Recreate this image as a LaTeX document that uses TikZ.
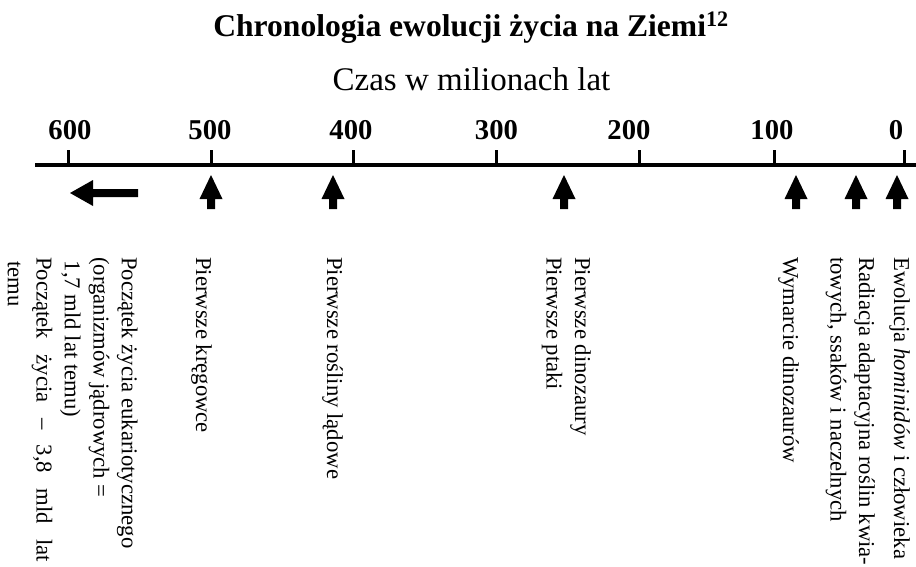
\documentclass[tikz,border=0pt]{standalone}
\usepackage{fontspec}
\setmainfont{Liberation Serif}
\begin{document}
\begin{tikzpicture}[x=1pt,y=-1pt,
  lbl/.style={rotate=-90,anchor=base west,inner sep=0pt,align=left,
    font=\fontsize{22.7}{28.5}\selectfont},
  titlestyle/.style={anchor=base,inner sep=0pt,font=\fontsize{31.6}{34}\selectfont\bfseries},
  subtitlestyle/.style={anchor=base,inner sep=0pt,font=\fontsize{33}{36}\selectfont},
  ticklbl/.style={anchor=base,inner sep=0pt,font=\fontsize{28.7}{30}\selectfont\bfseries},
  tickline/.style={line width=3pt},
  axisline/.style={line width=4.5pt}]
\useasboundingbox (0,0) rectangle (916,566);
\node[titlestyle] (title) at (471,36) {Chronologia ewolucji życia na Ziemi\textsuperscript{12}};
\node[subtitlestyle] (subtitle) at (471.5,90) {Czas w milionach lat};
\coordinate (axL) at (35,165);
\coordinate (axR) at (916,165);
\draw[axisline] (axL) -- (axR);
\foreach \x/\lab/\lx in {68/600/70, 211/500/210, 353/400/351, 496/300/496.5, 639/200/629, 774/100/772, 904/0/896}{
  \draw[tickline] (\x,150) -- (\x,165);
  \node[ticklbl] (t\lab) at (\lx,139) {\lab};
}
\foreach \x in {211,333,564,796,856,897}{
  \fill (\x,175) -- (\x+11.5,199) -- (\x+4,199) -- (\x+4,209) -- (\x-4,209) -- (\x-4,199) -- (\x-11.5,199) -- cycle;
}
\fill (70,193) -- (93,180) -- (93,189) -- (138,189) -- (138,197) -- (93,197) -- (93,206) -- cycle;
\node[lbl] (evo) at (894,257) {Ewolucja \textit{hominidów} i człowieka};
\node[lbl] (rad) at (830.5,257) {Radiacja adaptacyjna roślin kwia-\\towych, ssaków i naczelnych};
\node[lbl] (wym) at (783,257) {Wymarcie dinozaurów};
\node[lbl] (din) at (546.5,257) {Pierwsze dinozaury\\Pierwsze ptaki};
\node[lbl] (ros) at (327,257) {Pierwsze rośliny lądowe};
\node[lbl] (kre) at (196,257) {Pierwsze kręgowce};
\node[lbl] (euk) at (8,257) {Początek życia eukariotycznego\\(organizmów jądrowych =\\\hspace*{3.5pt}1,7 mld lat temu)\\\makebox[305pt][s]{Początek życia – 3,8 mld lat}\\\hspace*{4pt}temu};
\end{tikzpicture}
\end{document}
